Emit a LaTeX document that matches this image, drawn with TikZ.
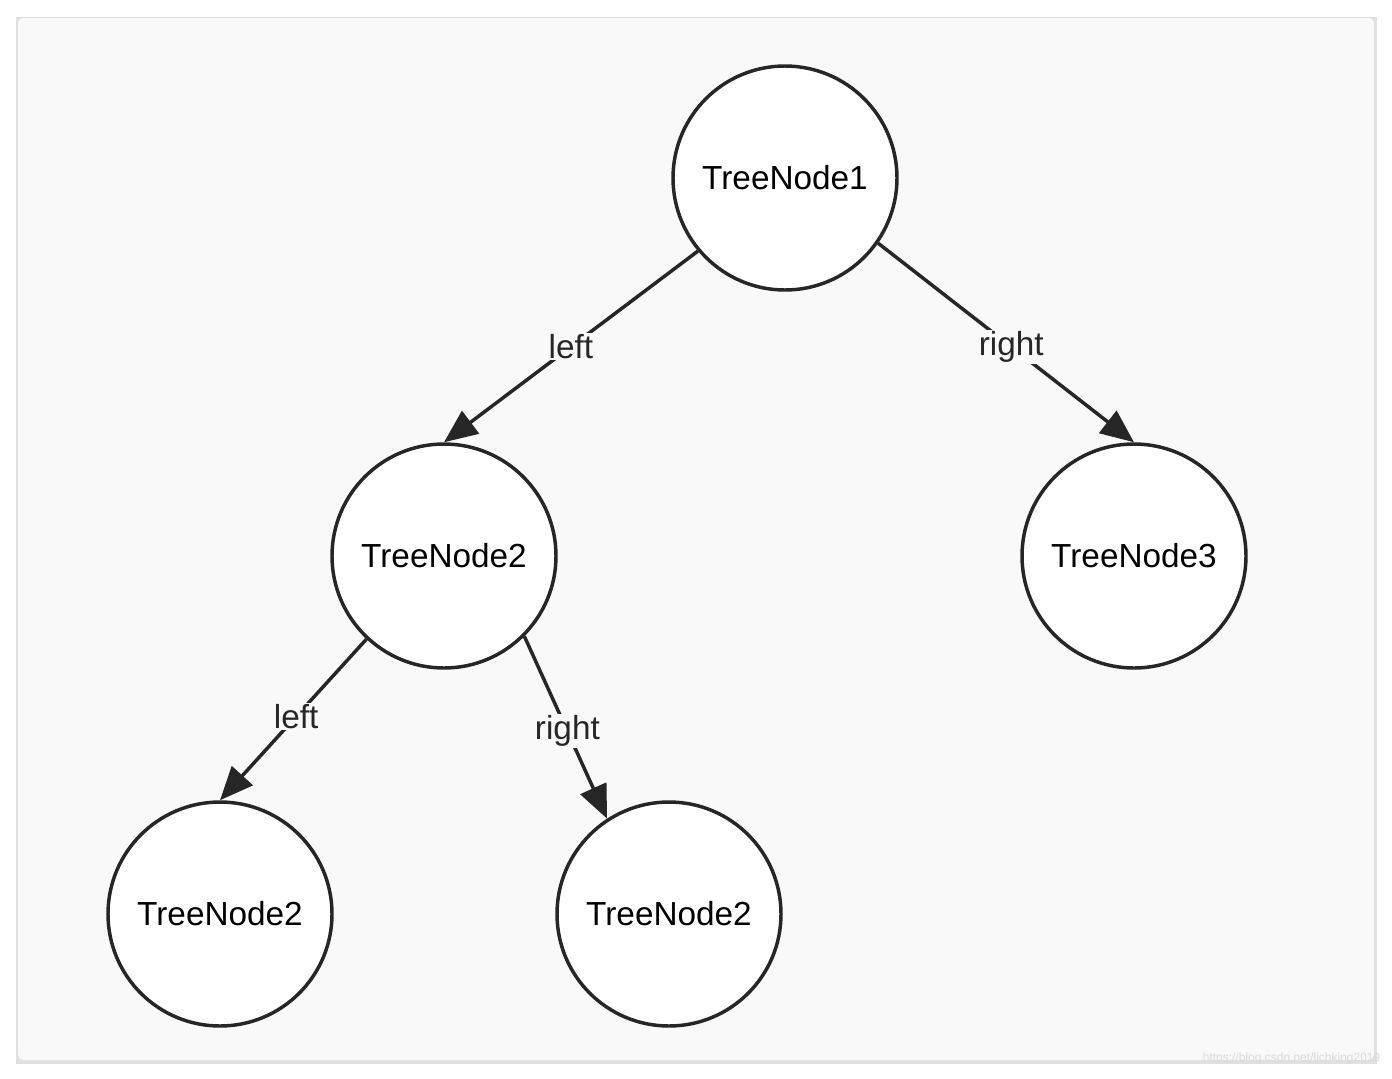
\documentclass[tikz,border=0pt]{standalone}
\usepackage{fontspec}
\setmainfont{Liberation Sans}
\usetikzlibrary{arrows.meta}
\definecolor{bg}{HTML}{F9F9F9}
\begin{document}
\begin{tikzpicture}[x=0.75pt,y=-0.75pt,
  tn/.style={circle,draw=black!85,line width=2.6pt,fill=white,minimum size=168pt,inner sep=0pt,font=\fontsize{25}{28}\selectfont},
  ed/.style={line width=2.6pt,draw=black!85,-{Triangle[length=25pt,width=21pt]}},
  lb/.style={fill=bg,inner sep=1pt,font=\fontsize{25}{28}\selectfont,text=black!85}]
\useasboundingbox (0,0) rectangle (1392,1078);
\fill[black!12] (16,17) rectangle (1377,1064);
\fill[bg,rounded corners=4pt] (18,18) rectangle (1374,1060);
\node[tn] (T1) at (785,178) {TreeNode1};
\node[tn] (T2) at (444,556) {TreeNode2};
\node[tn] (T3) at (1134,556) {TreeNode3};
\node[tn] (L) at (220,914) {TreeNode2};
\node[tn] (R) at (669,914) {TreeNode2};
\draw[ed] (T1.220) -- node[lb,pos=0.5]{left} (T2.north);
\draw[ed] (T1.-35) -- node[lb,pos=0.52]{right} (T3.north);
\draw[ed] (T2.-133) -- node[lb,pos=0.48]{left} (L.north);
\draw[ed] (T2.-45) -- node[lb,pos=0.52]{right} (R.123);
\node[text=black!15,font=\fontsize{9}{10}\selectfont,anchor=east] (wm) at (1385,1058) {https://blog.csdn.net/lichking2019};
\end{tikzpicture}
\end{document}
